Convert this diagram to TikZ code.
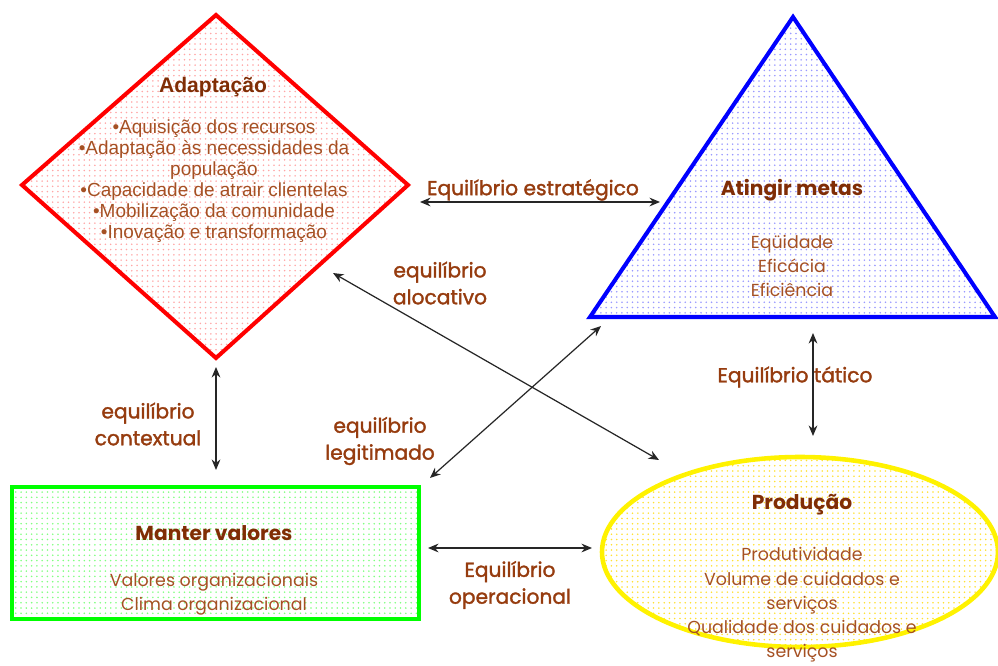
\documentclass[tikz,border=0pt]{standalone}
\usepackage{fontspec}
\usepackage{xcolor}
\usetikzlibrary{patterns,arrows.meta}
\setmainfont{Liberation Sans}
\newfontfamily\comicfont{Poppins}
\newfontfamily\comiclabel{Poppins}[FakeBold=1.6]

\definecolor{darkbrown}{RGB}{128,45,5}
\definecolor{textbrown}{RGB}{165,80,35}
\definecolor{labelbrown}{RGB}{150,60,15}

\tikzset{
  edge/.style={{Stealth[length=6pt,width=5pt]}-{Stealth[length=6pt,width=5pt]}, line width=0.7pt, black!85},
  eqlabel/.style={text=labelbrown, font=\comiclabel\fontsize{11.5}{15.3}\selectfont, align=center},
  title/.style={text=darkbrown, font=\comicfont\bfseries\fontsize{11.5}{13}\selectfont},
  items/.style={text=textbrown, font=\comicfont\fontsize{9.9}{13.8}\selectfont, align=center}
}

\begin{document}
\begin{tikzpicture}[x=0.02cm,y=-0.02cm]
\useasboundingbox (0,0) rectangle (998,666);

% the four shapes
\draw[red, line width=2.3pt, pattern=dots, pattern color=red!35]
  (216,15) -- (408,185) -- (216,358) -- (22,185) -- cycle;
\draw[blue, line width=2.3pt, pattern=dots, pattern color=blue!40]
  (793,17) -- (995,317) -- (590,317) -- cycle;
\draw[green, line width=2.6pt, pattern=dots, pattern color=green!50]
  (12,487) rectangle (419,619);
\draw[yellow, line width=2.6pt, pattern=dots, pattern color=yellow!70!orange!80]
  (800,552) ellipse [x radius=198, y radius=95];

% texts
\node[text=darkbrown, font=\bfseries\fontsize{12}{13}\selectfont] (adapt) at (213,87) {Adaptação};
\node[text=textbrown, font=\fontsize{10.8}{11.9}\selectfont, align=center] (adaptlist) at (214,181)
  {•Aquisição dos recursos\\•Adaptação às necessidades da\\população\\•Capacidade de atrair clientelas\\•Mobilização da comunidade\\•Inovação e transformação};

\node[title] (metas) at (792,190) {Atingir metas};
\node[items] (metaslist) at (792,266) {Eqüidade\\Eficácia\\Eficiência};

\node[title] (valores) at (214,533) {Manter valores};
\node[items] (valoreslist) at (214,594) {Valores organizacionais\\Clima organizacional};

\node[title] (producao) at (802,505) {Produção};
\node[items] (producaolist) at (802,605) {Produtividade\\Volume de cuidados e\\serviços\\Qualidade dos cuidados e\\serviços};

% arrow ends
\coordinate (a1) at (420,202);
\coordinate (a2) at (660,202);
\coordinate (b1) at (333,273);
\coordinate (b2) at (659,460);
\coordinate (c1) at (430,478);
\coordinate (c2) at (601,326);
\coordinate (d1) at (216,367);
\coordinate (d2) at (216,470);
\coordinate (e1) at (813,333);
\coordinate (e2) at (813,436);
\coordinate (f1) at (428,548);
\coordinate (f2) at (592,548);

\draw[edge] (a1) -- (a2);
\draw[edge] (b1) -- (b2);
\draw[edge] (c1) -- (c2);
\draw[edge] (d1) -- (d2);
\draw[edge] (e1) -- (e2);
\draw[edge] (f1) -- (f2);

% labels
\node[eqlabel] (estrat) at (533,190) {Equilíbrio estratégico};
\node[eqlabel] (aloc) at (440,283) {equilíbrio\\alocativo};
\node[eqlabel] (legit) at (380,441) {equilíbrio\\legitimado};
\node[eqlabel] (contex) at (148,424) {equilíbrio\\contextual};
\node[eqlabel] (tatico) at (795,377) {Equilíbrio tático};
\node[eqlabel] (operac) at (510,585) {Equilíbrio\\operacional};
\end{tikzpicture}
\end{document}
